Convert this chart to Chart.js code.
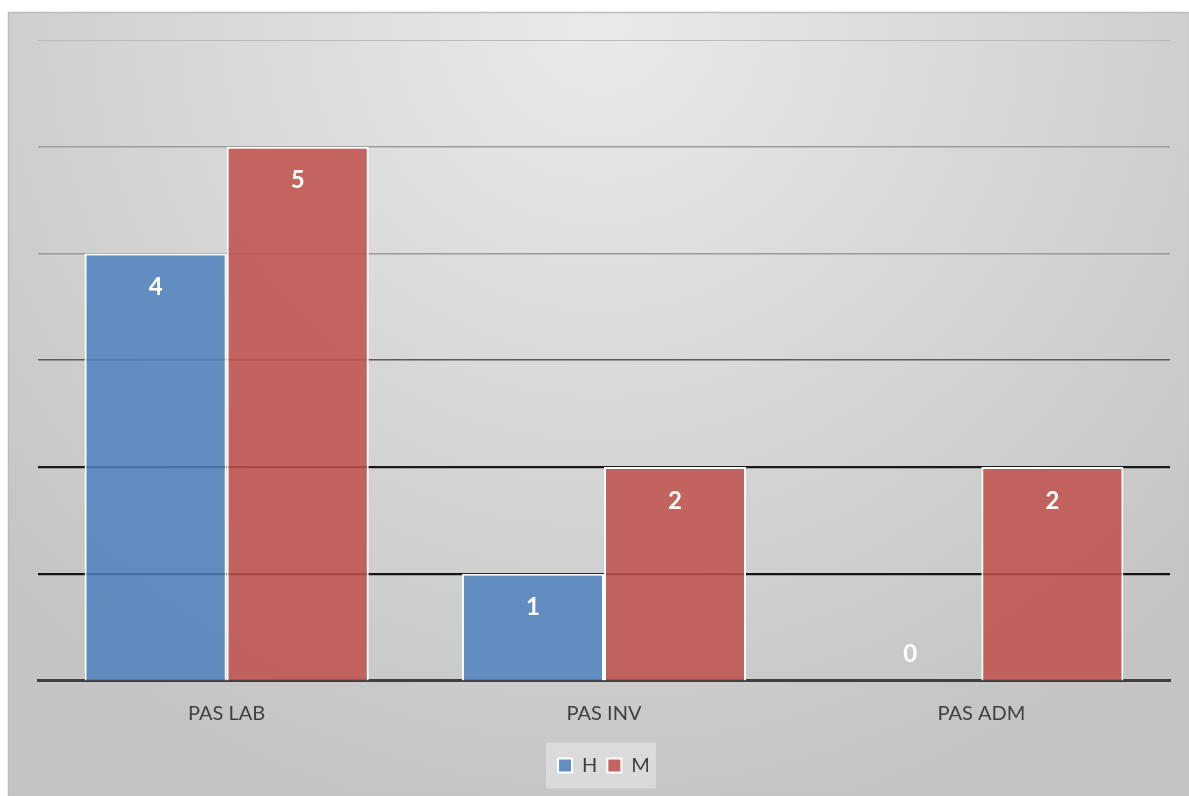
<!DOCTYPE html>
<html>
<head>
<meta charset="utf-8">
<script src="https://cdn.jsdelivr.net/npm/chart.js@4.4.1/dist/chart.umd.min.js"></script>
<style>
  html, body { margin: 0; padding: 0; background: #ffffff; }
  #wrap { position: absolute; left: 0; top: 0; width: 1189px; height: 796px; }
</style>
</head>
<body>
<div id="wrap"><canvas id="c"></canvas></div>
<script>
const categories = ['PAS LAB', 'PAS INV', 'PAS ADM'];
const seriesNames = ['H', 'M'];
const hValues = [4, 1, 0];
const mValues = [5, 2, 2];
const yTicks = [0, 1, 2, 3, 4, 5, 6];

const gridColors = { 0: 'rgba(0,0,0,0)', 1: '#141414', 2: '#1a1a1a', 3: '#5a5a5a', 4: '#9a9a9a', 5: '#9c9c9c', 6: '#bcbcbc' };
const gridWidths = { 0: 0, 1: 2.2, 2: 2.2, 3: 1.6, 4: 1.6, 5: 1.6, 6: 1 };

const bgPlugin = {
  id: 'bgPlugin',
  beforeDraw(chart) {
    const ctx = chart.ctx;
    const W = chart.width, H = chart.height;
    ctx.save();
    ctx.fillStyle = '#ffffff';
    ctx.fillRect(0, 0, W, H);
    const fx = 8, fy = 12, fw = W - 8, fh = H - 12;
    const g = ctx.createRadialGradient(600, 20, 0, 600, 20, 820);
    g.addColorStop(0, '#eaeaea');
    g.addColorStop(1, '#c4c4c4');
    ctx.fillStyle = g;
    ctx.fillRect(fx, fy, fw, fh);
    ctx.strokeStyle = '#bdbdbd';
    ctx.lineWidth = 1.5;
    ctx.strokeRect(fx + 0.5, fy + 0.5, fw, fh);
    // legend background
    const lg = chart.legend;
    if (lg && lg.legendHitBoxes && lg.legendHitBoxes.length) {
      const hb = lg.legendHitBoxes;
      let l = Infinity, r = -Infinity, t = Infinity, b = -Infinity;
      hb.forEach(h => { l = Math.min(l, h.left); r = Math.max(r, h.left + h.width); t = Math.min(t, h.top); b = Math.max(b, h.top + h.height); });
      const cy = (t + b) / 2;
      ctx.fillStyle = 'rgba(255,255,255,0.35)';
      ctx.fillRect(l - 12, cy - 23, (r - l) + 18, 46);
    }
    ctx.restore();
  }
};

const labelPlugin = {
  id: 'labelPlugin',
  afterDatasetsDraw(chart) {
    const ctx = chart.ctx;
    ctx.save();
    ctx.fillStyle = '#ffffff';
    ctx.font = 'bold 24px Lato';
    ctx.textAlign = 'center';
    ctx.textBaseline = 'middle';
    chart.data.datasets.forEach((ds, di) => {
      const meta = chart.getDatasetMeta(di);
      meta.data.forEach((el, i) => {
        const v = ds.data[i];
        const y = v > 0 ? el.y + 34 : el.base - 26;
        ctx.fillText(String(v), el.x, y);
      });
    });
    ctx.restore();
  }
};

new Chart(document.getElementById('c'), {
  type: 'bar',
  data: {
    labels: categories,
    datasets: [
      {
        label: seriesNames[0],
        data: hValues,
        backgroundColor: 'rgba(79,129,189,0.86)',
        borderColor: '#ffffff',
        borderWidth: (c) => (c.raw === 0 ? 0 : 2),
        borderSkipped: 'bottom'
      },
      {
        label: seriesNames[1],
        data: mValues,
        backgroundColor: 'rgba(192,80,77,0.86)',
        borderColor: '#ffffff',
        borderWidth: (c) => (c.raw === 0 ? 0 : 2),
        borderSkipped: 'bottom'
      }
    ]
  },
  options: {
    responsive: true,
    maintainAspectRatio: false,
    animation: false,
    devicePixelRatio: 1,
    layout: { padding: { left: 38, right: 19, top: 40, bottom: 10.5 } },
    datasets: { bar: { categoryPercentage: 0.753, barPercentage: 1.0 } },
    scales: {
      x: {
        z: 1,
        grid: { display: false, drawTicks: false },
        border: { display: true, color: '#404040', width: 3 },
        ticks: { color: '#404040', font: { family: 'Lato', size: 20 }, padding: 21 },
        afterFit(scale) { scale.height -= 1; }
      },
      y: {
        min: 0,
        max: 6,
        afterBuildTicks(scale) { scale.ticks = yTicks.map(v => ({ value: v })); },
        ticks: { display: false },
        border: { display: false },
        grid: {
          drawTicks: false,
          color: (c) => gridColors[c.tick.value],
          lineWidth: (c) => gridWidths[c.tick.value]
        }
      }
    },
    plugins: {
      legend: {
        position: 'bottom',
        labels: {
          color: '#404040',
          font: { family: 'Lato', size: 20 },
          boxWidth: 14,
          boxHeight: 14,
          padding: 10,
          generateLabels(chart) {
            return chart.data.datasets.map((ds, i) => ({
              text: ds.label,
              fillStyle: ds.backgroundColor,
              strokeStyle: '#ffffff',
              lineWidth: 2,
              hidden: false,
              datasetIndex: i,
              fontColor: '#404040'
            }));
          }
        }
      },
      tooltip: { enabled: false }
    }
  },
  plugins: [bgPlugin, labelPlugin]
});
</script>
</body>
</html>
